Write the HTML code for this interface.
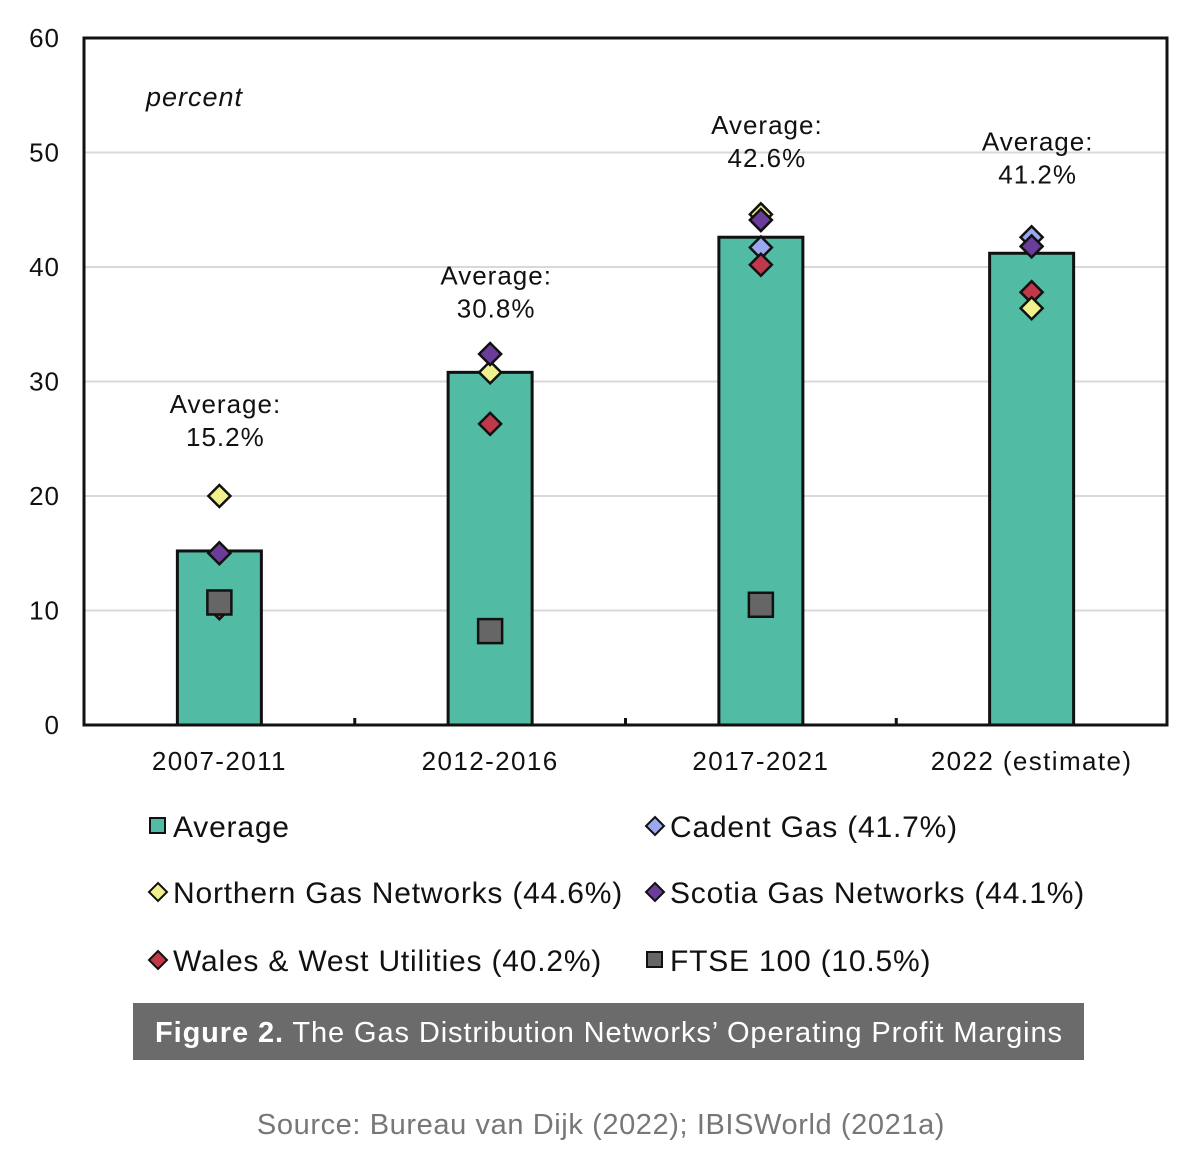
<!DOCTYPE html>
<html><head><meta charset="utf-8"><style>
body{margin:0;background:#fff;width:1200px;height:1171px;overflow:hidden;font-family:"Liberation Sans",sans-serif;}
</style></head><body>
<svg id="chart" width="1200" height="1171" xmlns="http://www.w3.org/2000/svg" font-family="Liberation Sans, sans-serif"></svg>
<script>
const categories=["2007-2011","2012-2016","2017-2021","2022 (estimate)"];
const averages=[15.2,30.8,42.6,41.2];
const avgLabels=["15.2%","30.8%","42.6%","41.2%"];
const cadent=[10.3,null,41.7,42.6];
const northern=[20.0,30.8,44.6,36.4];
const scotia=[15.0,32.4,44.1,41.8];
const wales=[10.2,26.3,40.2,37.8];
const ftse=[10.7,8.2,10.5,null];
const yTicks=[0,10,20,30,40,50,60];

const svg=document.getElementById('chart');
const NS='http://www.w3.org/2000/svg';
const L=84,R=1167,T=38,B=725;
const y=v=>B-(v/60)*(B-T);
const bw=(R-L)/4;
const x=i=>L+bw*(i+0.5);
const labelGap=[147,97,112,112];
function mk(tag,attrs,parent){const e=document.createElementNS(NS,tag);for(const k in attrs)e.setAttribute(k,attrs[k]);(parent||svg).appendChild(e);return e;}

yTicks.forEach(t=>{
  if(t>0&&t<60){const g=mk('line',{x1:L,x2:R,y1:y(t),y2:y(t),stroke:'#d9d9d9','stroke-width':2});
  
  }
  const tx=mk('text',{x:60,y:y(t)+9,'font-size':26,'letter-spacing':1,'text-anchor':'end',fill:'#111'});
  tx.textContent=t;
  
  
});
const pl=mk('text',{x:146,y:106,'font-size':27,'letter-spacing':1,'font-style':'italic',fill:'#111'});pl.textContent='percent';



categories.forEach((c,i)=>{
  const b=mk('rect',{x:x(i)-42,y:y(averages[i]),width:84,height:B-y(averages[i]),fill:'#52bba3',stroke:'#111','stroke-width':3});
  
  
  const top=y(averages[i])-labelGap[i];
  const t1=mk('text',{x:x(i)+6,y:top+9,'font-size':26,'letter-spacing':1,'text-anchor':'middle',fill:'#111'});
  t1.textContent='Average:';
  
  
  const t2=mk('text',{x:x(i)+6,y:top+42,'font-size':26,'letter-spacing':1,'text-anchor':'middle',fill:'#111'});
  t2.textContent=avgLabels[i];
  
  
  const xl=mk('text',{x:x(i),y:770,'font-size':26,'letter-spacing':1.4,'text-anchor':'middle',fill:'#111'});
  xl.textContent=c;
  
  
  if(i>0){const tk=mk('line',{x1:L+bw*i,x2:L+bw*i,y1:B,y2:B-7,stroke:'#111','stroke-width':3});
  
  }
});
const series=[[cadent,'#9aa8f0','cadent'],[wales,'#c0394b','wales'],[northern,'#f2f08c','northern'],[scotia,'#6a3d9a','scotia']];
function diamond(cx,cy,fill,p){return mk('polygon',{points:`${cx},${cy-11} ${cx+11},${cy} ${cx},${cy+11} ${cx-11},${cy}`,fill:fill,stroke:'#111','stroke-width':2.5},p);}
series.forEach(([arr,col,nm])=>{
  arr.forEach((v,i)=>{if(v==null)return;const d=diamond(x(i),y(v),col);
  
  });
});
ftse.forEach((v,i)=>{if(v==null)return;const s=mk('rect',{x:x(i)-12,y:y(v)-12,width:24,height:24,fill:'#666',stroke:'#111','stroke-width':2.5});
  
  });
const frame=mk('rect',{x:L,y:T,width:R-L,height:B-T,fill:'none',stroke:'#111','stroke-width':3});



const legend=[
 ['Average',148,826,'sq','#52bba3'],['Cadent Gas (41.7%)',645,826,'dm','#9aa8f0'],
 ['Northern Gas Networks (44.6%)',148,892,'dm','#f2f08c'],['Scotia Gas Networks (44.1%)',645,892,'dm','#6a3d9a'],
 ['Wales & West Utilities (40.2%)',148,960,'dm','#c0394b'],['FTSE 100 (10.5%)',645,960,'sq','#666']];
legend.forEach(([lab,lx,ly,sh,col])=>{
  const g=mk('g',{});
  
  
  if(sh=='sq')mk('rect',{x:lx+2,y:ly-8,width:15,height:15,fill:col,stroke:'#111','stroke-width':2},g);
  else mk('polygon',{points:`${lx+10},${ly-9} ${lx+19},${ly} ${lx+10},${ly+9} ${lx+1},${ly}`,fill:col,stroke:'#111','stroke-width':2},g);
  const t=mk('text',{x:lx+25,y:ly+11,'font-size':30,'letter-spacing':0.8,fill:'#111'},g);t.textContent=lab;
});
const cap=mk('rect',{x:133,y:1003,width:951,height:57,fill:'#6b6b6b'});


const ct=mk('text',{x:155,y:1042,'font-size':29,'letter-spacing':0.9,fill:'#fff'});
ct.innerHTML='<tspan font-weight="bold">Figure 2.</tspan> The Gas Distribution Networks’ Operating Profit Margins';


const src=mk('text',{x:601,y:1134,'font-size':29,'letter-spacing':0.6,'text-anchor':'middle',fill:'#777'});
src.textContent='Source: Bureau van Dijk (2022); IBISWorld (2021a)';


</script>
</body></html>
